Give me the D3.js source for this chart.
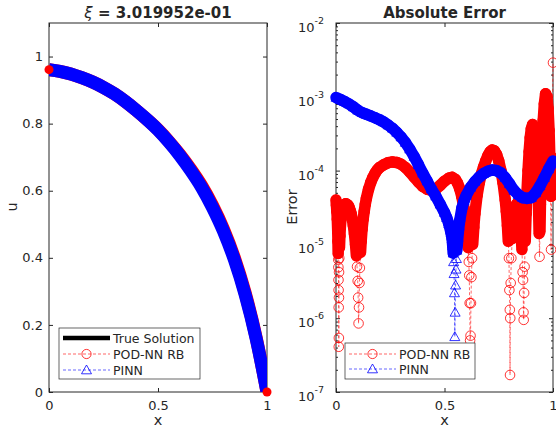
<!DOCTYPE html>
<html>
<head>
<meta charset="utf-8">
<script src="https://cdn.jsdelivr.net/npm/d3@7"></script>
<style>
  body { margin: 0; background: #fff; }
  svg { display: block; }
  text { font-family: "DejaVu Sans", sans-serif; fill: #262626; }
</style>
</head>
<body>
<svg id="chart" width="556" height="429"></svg>
<script>
// ---- left panel : solution u(x) ----
const xU = [0, 0.05, 0.1, 0.15, 0.2, 0.25, 0.3, 0.35, 0.4, 0.45, 0.5,
            0.55, 0.6, 0.65, 0.7, 0.75, 0.8, 0.85, 0.9, 0.95, 1];
const uTrue = [0.961, 0.956, 0.948, 0.937, 0.924, 0.908, 0.889, 0.866, 0.840, 0.812, 0.781,
               0.745, 0.705, 0.660, 0.610, 0.550, 0.480, 0.395, 0.290, 0.160, 0.0];
const uPod = [0.961, 0.956, 0.948, 0.937, 0.924, 0.908, 0.889, 0.866, 0.840, 0.812, 0.782,
              0.747, 0.708, 0.664, 0.615, 0.556, 0.486, 0.401, 0.295, 0.163, 0.0];
const uPinn = [0.961, 0.956, 0.948, 0.937, 0.924, 0.908, 0.889, 0.866, 0.840, 0.812, 0.781,
               0.745, 0.705, 0.660, 0.610, 0.550, 0.480, 0.395, 0.290, 0.160, 0.0];

// ---- right panel : absolute error ----
const podX = [0.000, 0.002, 0.004, 0.006, 0.008, 0.009, 0.010, 0.0105, 0.011, 0.0115,
  0.012, 0.0124, 0.0128, 0.0132, 0.0136, 0.014, 0.015, 0.016, 0.018, 0.020,
  0.023, 0.026, 0.030, 0.035, 0.040, 0.045, 0.050, 0.055, 0.060, 0.065,
  0.070, 0.075, 0.080, 0.085, 0.090, 0.094, 0.097, 0.100, 0.102, 0.104,
  0.106, 0.108, 0.110, 0.113, 0.116, 0.120, 0.125, 0.130, 0.135, 0.140,
  0.150, 0.160, 0.170, 0.180, 0.190, 0.200, 0.220, 0.240, 0.260, 0.280,
  0.300, 0.320, 0.340, 0.360, 0.380, 0.400, 0.420, 0.440, 0.460, 0.480,
  0.500, 0.520, 0.535, 0.550, 0.560, 0.570, 0.580, 0.590, 0.600, 0.605,
  0.609, 0.612, 0.614, 0.616, 0.618, 0.620, 0.622, 0.624, 0.627, 0.630,
  0.635, 0.640, 0.650, 0.660, 0.670, 0.680, 0.690, 0.700, 0.710, 0.720,
  0.730, 0.740, 0.750, 0.760, 0.770, 0.780, 0.785, 0.790, 0.794, 0.797,
  0.799, 0.801, 0.802, 0.803, 0.805, 0.808, 0.812, 0.816, 0.820, 0.825,
  0.830, 0.835, 0.840, 0.845, 0.850, 0.854, 0.857, 0.860, 0.862, 0.864,
  0.865, 0.867, 0.869, 0.872, 0.876, 0.880, 0.885, 0.890, 0.895, 0.900,
  0.906, 0.912, 0.918, 0.924, 0.928, 0.931, 0.934, 0.936, 0.938, 0.940,
  0.942, 0.945, 0.950, 0.955, 0.960, 0.966, 0.972, 0.977, 0.982, 0.986,
  0.989, 0.991, 0.993, 0.996, 1.000];
const podErr = [4.0e-5, 3.4e-5, 2.8e-5, 2.2e-5, 1.5e-5, 1.1e-5, 7.5e-6, 6.2e-6, 4.9e-6, 3.3e-6,
  2.4e-6, 1.4e-6, 4.1e-7, 5.4e-7, 1.9e-6, 4.2e-6, 6.5e-6, 9.0e-6, 1.3e-5, 1.7e-5,
  2.2e-5, 2.6e-5, 3.0e-5, 3.3e-5, 3.5e-5, 3.55e-5, 3.5e-5, 3.4e-5, 3.2e-5, 2.9e-5,
  2.6e-5, 2.2e-5, 1.8e-5, 1.4e-5, 1.0e-5, 7.0e-6, 5.0e-6, 3.2e-6, 1.9e-6, 8.5e-7,
  1.4e-6, 3.0e-6, 4.8e-6, 7.8e-6, 1.1e-5, 1.6e-5, 2.2e-5, 2.8e-5, 3.5e-5, 4.2e-5,
  5.6e-5, 6.9e-5, 8.1e-5, 9.2e-5, 1.02e-4, 1.1e-4, 1.2e-4, 1.28e-4, 1.31e-4, 1.29e-4,
  1.22e-4, 1.1e-4, 9.6e-5, 8.2e-5, 7.0e-5, 6.1e-5, 5.6e-5, 5.4e-5, 5.6e-5, 6.3e-5,
  7.2e-5, 7.9e-5, 8.1e-5, 7.6e-5, 6.8e-5, 5.7e-5, 4.4e-5, 3.1e-5, 1.9e-5, 1.35e-5,
  9.0e-6, 5.8e-6, 3.8e-6, 1.6e-6, 5.0e-7, 5.8e-7, 1.6e-6, 3.6e-6, 6.5e-6, 1.0e-5,
  1.7e-5, 2.6e-5, 4.6e-5, 6.8e-5, 9.0e-5, 1.12e-4, 1.35e-4, 1.6e-4, 1.8e-4, 1.9e-4,
  1.85e-4, 1.65e-4, 1.35e-4, 1.0e-4, 6.8e-5, 4.0e-5, 2.8e-5, 1.8e-5, 1.1e-5, 6.5e-6,
  2.4e-6, 1.3e-6, 1.7e-7, 1.0e-6, 3.0e-6, 6.5e-6, 1.2e-5, 1.8e-5, 2.4e-5, 2.9e-5,
  3.4e-5, 3.6e-5, 3.4e-5, 2.8e-5, 2.0e-5, 1.3e-5, 8.5e-6, 4.2e-6, 3.3e-6, 1.2e-6,
  9.5e-7, 2.2e-6, 5.0e-6, 1.1e-5, 2.6e-5, 5.0e-5, 1.0e-4, 1.8e-4, 2.8e-4, 3.7e-4,
  4.2e-4, 3.9e-4, 2.9e-4, 1.7e-4, 1.0e-4, 6.0e-5, 2.7e-5, 1.4e-5, 6.8e-6, 1.5e-5,
  3.5e-5, 8.0e-5, 2.2e-4, 4.8e-4, 8.0e-4, 1.1e-3, 1.0e-3, 7.0e-4, 3.5e-4, 1.3e-4,
  4.5e-5, 8.5e-6, 4.5e-5, 1.5e-4, 2.9e-3];

const pinnX = [0.00, 0.02, 0.04, 0.06, 0.08, 0.10, 0.12, 0.14, 0.16, 0.18,
  0.20, 0.22, 0.24, 0.26, 0.28, 0.30, 0.32, 0.34, 0.36, 0.38,
  0.40, 0.42, 0.44, 0.46, 0.48, 0.50, 0.51, 0.52, 0.53, 0.535,
  0.538, 0.540, 0.542, 0.544, 0.546, 0.5475, 0.549, 0.551, 0.553, 0.555,
  0.557, 0.560, 0.565, 0.57, 0.58, 0.59, 0.60, 0.62, 0.64, 0.66,
  0.68, 0.70, 0.72, 0.74, 0.76, 0.78, 0.80, 0.82, 0.84, 0.86,
  0.88, 0.90, 0.92, 0.94, 0.96, 0.98, 1.00];
const pinnErr = [9.8e-4, 9.2e-4, 8.6e-4, 8.0e-4, 7.3e-4, 6.6e-4, 6.1e-4, 5.8e-4, 5.5e-4, 5.2e-4,
  4.9e-4, 4.55e-4, 4.15e-4, 3.75e-4, 3.3e-4, 2.85e-4, 2.4e-4, 1.95e-4, 1.55e-4, 1.2e-4,
  9.2e-5, 7.2e-5, 5.6e-5, 4.5e-5, 3.5e-5, 2.7e-5, 2.3e-5, 1.9e-5, 1.45e-5, 1.2e-5,
  9.5e-6, 7.6e-6, 5.8e-6, 4.0e-6, 2.2e-6, 5.6e-7, 1.2e-6, 2.8e-6, 4.6e-6, 6.4e-6,
  8.3e-6, 1.1e-5, 1.6e-5, 2.1e-5, 3.1e-5, 3.9e-5, 4.6e-5, 5.9e-5, 7.1e-5, 8.2e-5,
  9.1e-5, 9.8e-5, 1.02e-4, 1.0e-4, 9.3e-5, 8.0e-5, 6.6e-5, 5.4e-5, 4.7e-5, 4.3e-5,
  4.2e-5, 4.3e-5, 5.0e-5, 6.2e-5, 8.0e-5, 1.05e-4, 1.35e-4];

const xTicks = [0, 0.5, 1];
const uTicks = [0, 0.2, 0.4, 0.6, 0.8, 1];
const errDecades = [1e-7, 1e-6, 1e-5, 1e-4, 1e-3, 1e-2];

const RED = "#ff0000", BLUE = "#0000ff", AX = "#262626";

const svg = d3.select("#chart");
const yTop = 23, yBottom = 392;

const xL = d3.scaleLinear().domain([0, 1]).range([49, 267]);
const yL = d3.scaleLinear().domain([0, 1.1]).range([yBottom, yTop]);
const xR = d3.scaleLinear().domain([0, 1]).range([336, 553]);
const yR = d3.scaleLog().domain([1e-7, 1e-2]).range([yBottom, yTop]);

const defs = svg.append("defs");
defs.append("clipPath").attr("id", "clipL").append("rect")
  .attr("x", 49).attr("y", yTop).attr("width", 218).attr("height", yBottom - yTop);

// axes helper: inward ticks on all 4 sides
function drawAxes(x, y, yTickVals, yFmt, minorVals) {
  const g = svg.append("g");
  const [x0, x1] = x.range();
  g.append("g").attr("transform", `translate(0,${yBottom})`)
    .call(d3.axisBottom(x).tickValues(xTicks).tickSize(-4).tickPadding(9).tickFormat(d => String(d)));
  g.append("g").attr("transform", `translate(0,${yTop})`)
    .call(d3.axisTop(x).tickValues(xTicks).tickSize(-4).tickFormat(""));
  g.append("g").attr("transform", `translate(${x0},0)`)
    .call(d3.axisLeft(y).tickValues(yTickVals).tickSize(-4).tickPadding(6).tickFormat(yFmt));
  g.append("g").attr("transform", `translate(${x1},0)`)
    .call(d3.axisRight(y).tickValues(yTickVals).tickSize(-4).tickFormat(""));
  if (minorVals) {
    g.append("g").attr("transform", `translate(${x0},0)`)
      .call(d3.axisLeft(y).tickValues(minorVals).tickSize(-2).tickFormat(""));
    g.append("g").attr("transform", `translate(${x1},0)`)
      .call(d3.axisRight(y).tickValues(minorVals).tickSize(-2).tickFormat(""));
  }
  g.selectAll(".domain").remove();
  g.selectAll(".tick line").attr("stroke", AX);
  g.selectAll(".tick text").attr("fill", AX).style("font-size", "13px")
    .style("font-family", '"DejaVu Sans", sans-serif');
  g.append("rect").attr("x", x0).attr("y", yTop).attr("width", x1 - x0).attr("height", yBottom - yTop)
    .attr("fill", "none").attr("stroke", AX).attr("stroke-width", 1);
  return g;
}

// ---------- left panel ----------
drawAxes(xL, yL, uTicks, d => String(d));

const lineL = d3.line().x((d, i) => xL(xU[i])).y(d => yL(d)).curve(d3.curveMonotoneX);
const gL = svg.append("g").attr("clip-path", "url(#clipL)");
gL.append("path").attr("d", lineL(uTrue)).attr("fill", "none").attr("stroke", "#000").attr("stroke-width", 8);
gL.append("path").attr("d", lineL(uPod)).attr("fill", "none").attr("stroke", RED).attr("stroke-width", 13);
svg.append("circle").attr("cx", xL(xU[0])).attr("cy", yL(uPod[0])).attr("r", 4.5).attr("fill", RED);
svg.append("circle").attr("cx", xL(xU[xU.length - 1])).attr("cy", yL(uPod[uPod.length - 1])).attr("r", 4.5).attr("fill", RED);
gL.append("path").attr("d", lineL(uPinn)).attr("fill", "none").attr("stroke", BLUE).attr("stroke-width", 13);

svg.append("text").attr("x", 158).attr("y", 18).attr("text-anchor", "middle")
  .style("font-size", "15px").style("font-weight", "bold")
  .call(t => {
    t.append("tspan").style("font-weight", "normal").style("font-style", "italic").text("ξ");
    t.append("tspan").text(" = 3.019952e-01");
  });
svg.append("text").attr("x", 158).attr("y", 425).attr("text-anchor", "middle").style("font-size", "14.5px").text("x");
svg.append("text").attr("transform", "translate(17,207) rotate(-90)").attr("text-anchor", "middle")
  .style("font-size", "14.5px").text("u");

// ---------- right panel ----------
const minor = [];
errDecades.slice(0, -1).forEach(d => { for (let k = 2; k <= 9; k++) minor.push(d * k); });
drawAxes(xR, yR, errDecades, "", minor);
// log labels 10^k
errDecades.forEach(d => {
  const t = svg.append("text").attr("x", 324).attr("y", yR(d)).attr("dy", 9)
    .attr("text-anchor", "end").style("font-size", "13px");
  t.append("tspan").text("10");
  t.append("tspan").attr("dy", -8).style("font-size", "9.5px").text("-" + Math.round(-Math.log10(d)));
});

function drawErr(xs, vs, color, marker) {
  const pts = xs.map((x, i) => [xR(x), yR(vs[i]), vs[i]]);
  const g = svg.append("g");
  // dense markers merge into a solid band where neighbouring points are close
  const segs = [];
  for (let i = 1; i < pts.length; i++) {
    const a = pts[i - 1], b = pts[i];
    if (a[2] >= 7e-6 && b[2] >= 7e-6 && Math.hypot(b[0] - a[0], b[1] - a[1]) < 45) segs.push([a, b]);
  }
  g.selectAll("path.band").data(segs).enter().append("path").attr("class", "band")
    .attr("d", s => d3.line()(s.map(p => [p[0], p[1]])))
    .attr("fill", "none").attr("stroke", color).attr("stroke-width", 11.5)
    .attr("stroke-linecap", "round").attr("stroke-linejoin", "round");
  g.append("path").attr("d", d3.line()(pts.map(p => [p[0], p[1]])))
    .attr("fill", "none").attr("stroke", color).attr("stroke-width", 0.6).attr("stroke-dasharray", "3,2");
  if (marker === "o") {
    g.selectAll("circle").data(pts).enter().append("circle")
      .attr("cx", p => p[0]).attr("cy", p => p[1]).attr("r", 4.8)
      .attr("fill", "none").attr("stroke", color).attr("stroke-width", 0.8);
  } else {
    g.selectAll("path.tri").data(pts).enter().append("path").attr("class", "tri")
      .attr("transform", p => `translate(${p[0]},${p[1]})`)
      .attr("d", "M0,-5L5,3.8L-5,3.8Z")
      .attr("fill", "none").attr("stroke", color).attr("stroke-width", 0.8);
  }
}
drawErr(podX, podErr, RED, "o");
drawErr(pinnX, pinnErr, BLUE, "^");

svg.append("text").attr("x", 444.5).attr("y", 18).attr("text-anchor", "middle")
  .style("font-size", "15px").style("font-weight", "bold").text("Absolute Error");
svg.append("text").attr("x", 444.5).attr("y", 425).attr("text-anchor", "middle").style("font-size", "14.5px").text("x");
svg.append("text").attr("transform", "translate(297,207) rotate(-90)").attr("text-anchor", "middle")
  .style("font-size", "14.5px").text("Error");

// ---------- legends ----------
function legend(x0, y0, w, h, rows) {
  const g = svg.append("g");
  g.append("rect").attr("x", x0).attr("y", y0).attr("width", w).attr("height", h)
    .attr("fill", "#fff").attr("stroke", AX).attr("stroke-width", 0.7);
  rows.forEach(r => {
    const l = g.append("line").attr("x1", x0 + 4).attr("x2", x0 + 51).attr("y1", r.y).attr("y2", r.y)
      .attr("stroke", r.color);
    if (r.type === "solid") l.attr("stroke-width", 4.5);
    else l.attr("stroke-width", 0.6).attr("stroke-dasharray", "3,2");
    const cx = x0 + 27.5;
    if (r.type === "o") g.append("circle").attr("cx", cx).attr("cy", r.y).attr("r", 4.6)
      .attr("fill", "none").attr("stroke", r.color).attr("stroke-width", 0.8);
    if (r.type === "^") g.append("path").attr("transform", `translate(${cx},${r.y})`)
      .attr("d", "M0,-5L5,3.8L-5,3.8Z").attr("fill", "none").attr("stroke", r.color).attr("stroke-width", 0.8);
    g.append("text").attr("x", x0 + 54).attr("y", r.y).attr("dy", "0.36em")
      .style("font-size", "12.5px").text(r.label);
  });
}
legend(59, 328, 141, 51, [
  { y: 338, color: "#000", type: "solid", label: "True Solution" },
  { y: 354, color: RED, type: "o", label: "POD-NN RB" },
  { y: 370, color: BLUE, type: "^", label: "PINN" }
]);
legend(345, 343, 130, 36, [
  { y: 354, color: RED, type: "o", label: "POD-NN RB" },
  { y: 369, color: BLUE, type: "^", label: "PINN" }
]);
</script>
</body>
</html>
